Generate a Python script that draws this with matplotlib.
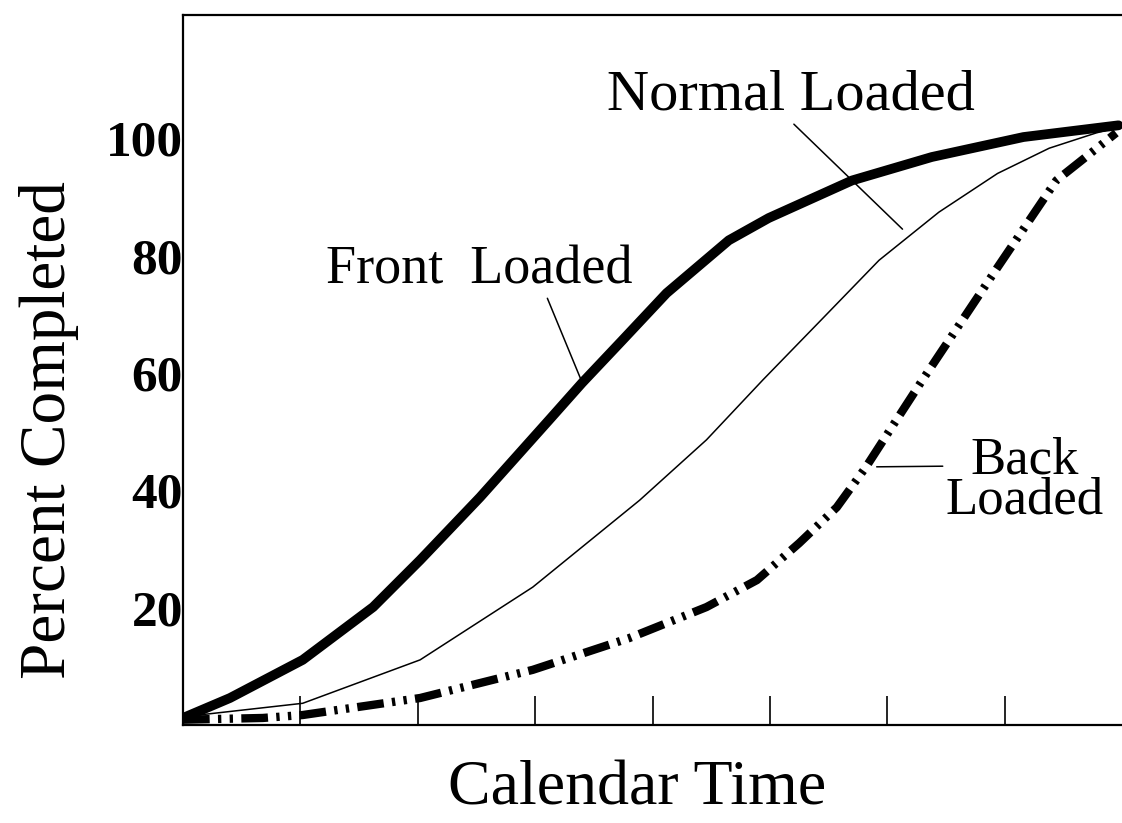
import matplotlib
matplotlib.use("Agg")
import matplotlib.pyplot as plt

plt.rcParams["font.family"] = ["Liberation Serif", "DejaVu Serif"]

# --- data -----------------------------------------------------------------
front_x = [0.00, 0.40, 1.02, 1.62, 2.02, 2.53, 3.12, 3.40, 3.74, 4.12, 4.65, 4.99, 5.70, 6.38, 7.16, 7.97]
front_y = [1.2, 4.6, 11.1, 20.1, 28.1, 38.8, 52.0, 58.3, 65.5, 73.6, 82.6, 86.4, 92.8, 96.8, 100.2, 102.2]

normal_x = [0.00, 1.02, 2.02, 2.98, 3.89, 4.46, 4.94, 5.46, 5.93, 6.44, 6.94, 7.38, 7.78, 7.97]
normal_y = [1.4, 3.7, 11.1, 23.5, 38.3, 48.6, 58.8, 69.5, 79.2, 87.4, 94.0, 98.3, 100.9, 101.9]

back_x = [0.00, 0.68, 1.02, 2.02, 2.98, 3.80, 4.46, 4.89, 5.25, 5.57, 5.82, 6.04, 6.30, 6.94, 7.44, 7.95]
back_y = [0.9, 1.2, 1.7, 4.6, 9.4, 14.8, 20.1, 24.7, 31.0, 37.1, 44.0, 50.8, 58.8, 78.0, 92.8, 100.9]

y_ticks = [20, 40, 60, 80, 100]
x_ticks = [1, 2, 3, 4, 5, 6, 7]
# --------------------------------------------------------------------------

fig = plt.figure(figsize=(11.22, 8.23), dpi=100)
ax = fig.add_axes([183 / 1122, 98 / 823, 939 / 1122, 710 / 823])

ax.plot(front_x, front_y, color="black", lw=7, solid_capstyle="round",
        solid_joinstyle="round")
ax.plot(normal_x, normal_y, color="black", lw=1.1)
ax.plot(back_x, back_y, color="black", lw=6,
        dashes=(3.2, 1.0, 0.4, 1.0, 0.4, 1.0), dash_capstyle="butt")

ax.set_xlim(0, 8)
ax.set_ylim(0, 121)

ax.set_yticks(y_ticks)
ax.set_yticklabels([str(v) for v in y_ticks], fontsize=37, fontweight="bold")
ax.tick_params(axis="y", length=0, pad=0)

ax.set_xticks(x_ticks)
ax.set_xticklabels([])
ax.tick_params(axis="x", direction="in", length=21, width=1.2)

for s in ["left", "bottom", "top"]:
    ax.spines[s].set_linewidth(1.6)
ax.spines["right"].set_visible(False)

ax.set_ylabel("Percent Completed", fontsize=47)
ax.yaxis.set_label_coords((79 - 183) / 939, (725 - 430) / 710)
ax.set_xlabel("Calendar Time", fontsize=46)
ax.xaxis.set_label_coords((637 - 183) / 939, -0.05)

# labels with leader lines
ax.annotate("Front  Loaded", xy=(3.40, 58.4), xytext=(2.52, 77.5),
            fontsize=39, ha="center", va="center",
            arrowprops=dict(arrowstyle="-", lw=1.1, color="black",
                            shrinkA=0, shrinkB=0, relpos=(0.72, 0.0)))
ax.annotate("Normal Loaded", xy=(6.13, 84.5), xytext=(5.18, 107.3),
            fontsize=42, ha="center", va="center",
            arrowprops=dict(arrowstyle="-", lw=1.1, color="black",
                            shrinkA=0, shrinkB=0, relpos=(0.5, 0.0)))
ax.annotate("Back\nLoaded", xy=(5.91, 44.0), xytext=(7.17, 41.7),
            fontsize=38, ha="center", va="center", linespacing=0.8,
            arrowprops=dict(arrowstyle="-", lw=1.1, color="black",
                            shrinkA=0, shrinkB=0, relpos=(0.02, 0.66)))

plt.savefig("out.png", dpi=100)
